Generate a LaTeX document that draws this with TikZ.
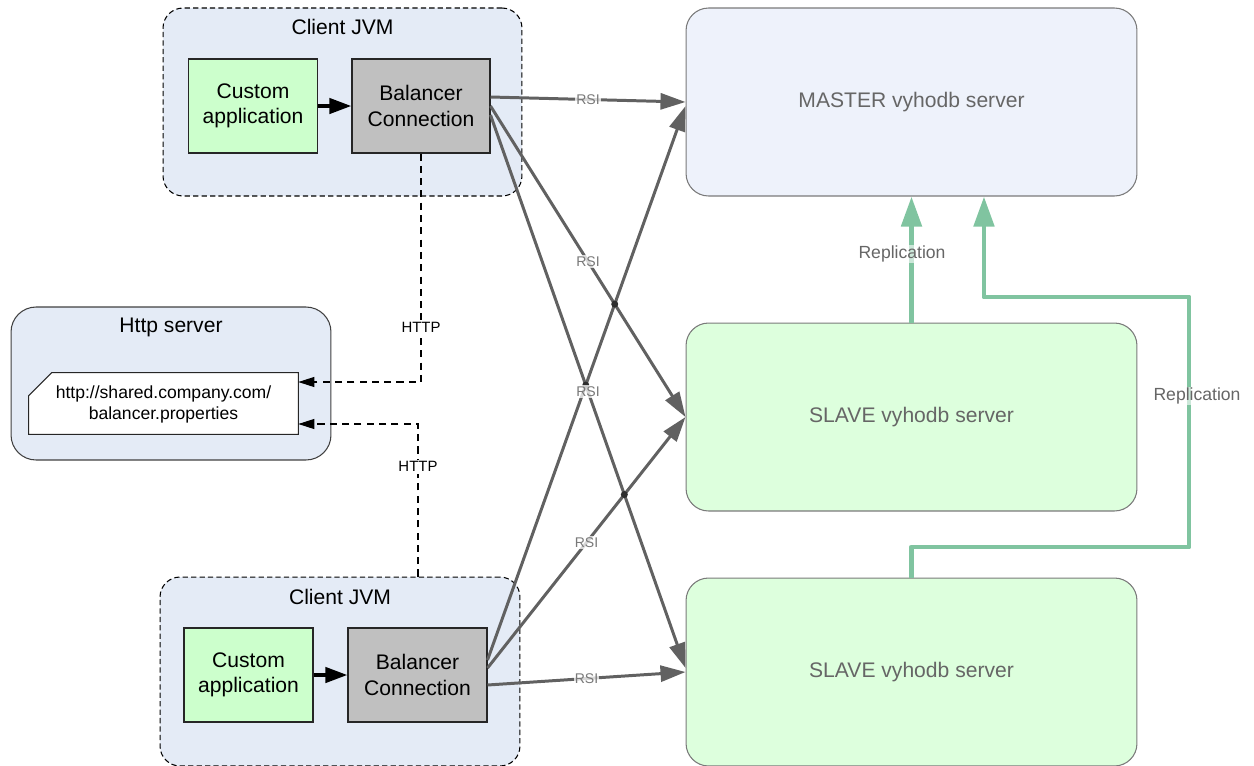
\documentclass[tikz,border=0pt]{standalone}
\usepackage{fontspec}
\setmainfont{Liberation Sans}
\usetikzlibrary{arrows.meta,intersections,calc}
\definecolor{jvmfill}{HTML}{E4EBF6}
\definecolor{masterfill}{HTML}{EEF2FB}
\definecolor{slavefill}{HTML}{DDFFDD}
\definecolor{appfill}{HTML}{CCFFCC}
\definecolor{balfill}{HTML}{C0C0C0}
\definecolor{rsicol}{HTML}{616161}
\definecolor{repcol}{HTML}{80C4A0}
\definecolor{srvtext}{HTML}{666666}
\definecolor{srvborder}{HTML}{7A7A7A}
\definecolor{dotcol}{HTML}{2E2E2E}
\begin{document}
\begin{tikzpicture}[x=0.02cm,y=-0.02cm,
  jvmbox/.style={draw=black, line width=0.6pt, dash pattern=on 3pt off 1.8pt, fill=jvmfill,
    rounded corners=0.4cm, inner sep=0, minimum width=7.18cm, minimum height=3.76cm},
  httpbox/.style={draw=black!75, line width=0.6pt, fill=jvmfill, rounded corners=0.5cm,
    inner sep=0, minimum width=6.4cm, minimum height=3.06cm},
  title/.style={font=\fontsize{12}{14}\selectfont, text=black, inner sep=0},
  inbox/.style={draw=black!85, line width=0.6pt, minimum width=2.57cm, minimum height=1.88cm,
    inner sep=0, align=center, font=\fontsize{12}{14.5}\selectfont},
  server/.style={draw=srvborder, line width=0.6pt, rounded corners=0.45cm, minimum width=9.02cm,
    minimum height=3.76cm, inner sep=0, text=srvtext, font=\fontsize{12}{14}\selectfont},
  rsi/.style={draw=rsicol, line width=1.7pt, -{Triangle[length=0.5cm,width=0.32cm]}},
  rsilbl/.style={font=\fontsize{8}{9}\selectfont, text=rsicol!85, fill=white, fill opacity=0.75,
    text opacity=1, inner sep=0.6pt},
  apparrow/.style={draw=black, line width=2.3pt, -{Triangle[length=0.44cm,width=0.3cm]}},
  http/.style={draw=black, line width=0.6pt, dash pattern=on 4pt off 3pt,
    -{Triangle[length=0.32cm,width=0.2cm]}},
  httplbl/.style={font=\fontsize{8.5}{10}\selectfont, fill=white, inner sep=1pt},
  rep/.style={draw=repcol, line width=2.8pt, line join=round,
    -{Triangle[length=0.6cm,width=0.4cm]}},
  replbl/.style={font=\fontsize{10}{12}\selectfont, text=srvtext, fill=white, fill opacity=0.6,
    text opacity=1, inner sep=0.5pt}
]
\useasboundingbox (0,0) rectangle (1254,765);

% servers
\node[server, fill=masterfill] (master) at (911.5,102) {MASTER vyhodb server};
\node[server, fill=slavefill] (slave1) at (911.5,417) {SLAVE vyhodb server};
\node[server, fill=slavefill] (slave2) at (911.5,672) {SLAVE vyhodb server};

% client JVM 1
\node[jvmbox] (jvm1) at (342.5,102) {};
\node[title] (jvm1t) at (342.5,27) {Client JVM};
\node[inbox, fill=appfill] (app1) at (253,106) {Custom\\application};
\node[inbox, fill=balfill, minimum width=2.76cm] (bal1) at (421,106) {Balancer\\Connection};
\draw[apparrow] (app1.east) -- (bal1.west);

% client JVM 2
\node[jvmbox, minimum width=7.2cm, minimum height=3.78cm] (jvm2) at (340,671.5) {};
\node[title] (jvm2t) at (340,597) {Client JVM};
\node[inbox, fill=appfill, minimum width=2.58cm] (app2) at (248.5,675) {Custom\\application};
\node[inbox, fill=balfill, minimum width=2.78cm] (bal2) at (417.5,675) {Balancer\\Connection};
\draw[apparrow] (app2.east) -- (bal2.west);

% http server
\node[httpbox] (http) at (171,383.5) {};
\node[title] (httpt) at (171,327) {Http server};
\node[minimum width=5.38cm, minimum height=1.22cm, inner sep=0] (fileshape) at (163.5,403.5) {};
\draw[fill=white, draw=black!85, line width=0.6pt] ([xshift=0.46cm]fileshape.north west) -- (fileshape.north east)
  -- (fileshape.south east) -- (fileshape.south west) -- ([yshift=-0.46cm]fileshape.north west) -- cycle;
\node[align=center, inner sep=0, font=\fontsize{10}{11.9}\selectfont] (file) at (163.5,404)
  {http://shared.company.com/\\balancer.properties};

% HTTP connectors
\draw[http] (bal1.south) |- node[httplbl, pos=0.38] {HTTP} ([yshift=0.43cm]fileshape.east);
\draw[http] ([xshift=1.56cm]jvm2.north) |- node[httplbl, pos=0.36] {HTTP} ([yshift=-0.41cm]fileshape.east);

% RSI connectors
\draw[rsi, name path=l1] ([yshift=0.18cm]bal1.east) -- coordinate[pos=0.5] (m1) (master.west);
\draw[rsi, name path=l2] (bal1.east) -- coordinate[pos=0.5] (m2) (slave1.west);
\draw[rsi, name path=l3] ([yshift=-0.18cm]bal1.east) -- coordinate[pos=0.5] (m3) ([yshift=0.08cm]slave2.west);
\draw[rsi, name path=l4] ([yshift=0.3cm]bal2.east) -- ([yshift=-0.08cm]master.west);
\draw[rsi, name path=l5] ([yshift=0.14cm]bal2.east) -- coordinate[pos=0.5] (m5) (slave1.west);
\draw[rsi, name path=l6] ([yshift=-0.2cm]bal2.east) -- coordinate[pos=0.5] (m6) (slave2.west);

\fill[dotcol, name intersections={of=l2 and l4, name=ia}] (ia-1) circle (2pt);
\fill[dotcol, name intersections={of=l3 and l4, name=ib}] (ib-1) circle (2pt);
\fill[dotcol, name intersections={of=l3 and l5, name=ic}] (ic-1) circle (2pt);

\node[rsilbl] (r1) at (m1) {RSI};
\node[rsilbl] (r2) at (m2) {RSI};
\node[rsilbl] (r3) at (m3) {RSI};
\node[rsilbl] (r5) at (m5) {RSI};
\node[rsilbl] (r6) at (m6) {RSI};

% replication
\draw[rep] (slave1.north) -- (master.south);
\node[replbl] (rep1) at (902,254) {Replication};
\coordinate (c1) at (1189,547);
\coordinate (c2) at (1189,297);
\draw[rep] (slave2.north) |- (c1) -- (c2) -| ([xshift=1.45cm]master.south);
\node[replbl] (rep2) at (1197,396) {Replication};
\end{tikzpicture}
\end{document}
